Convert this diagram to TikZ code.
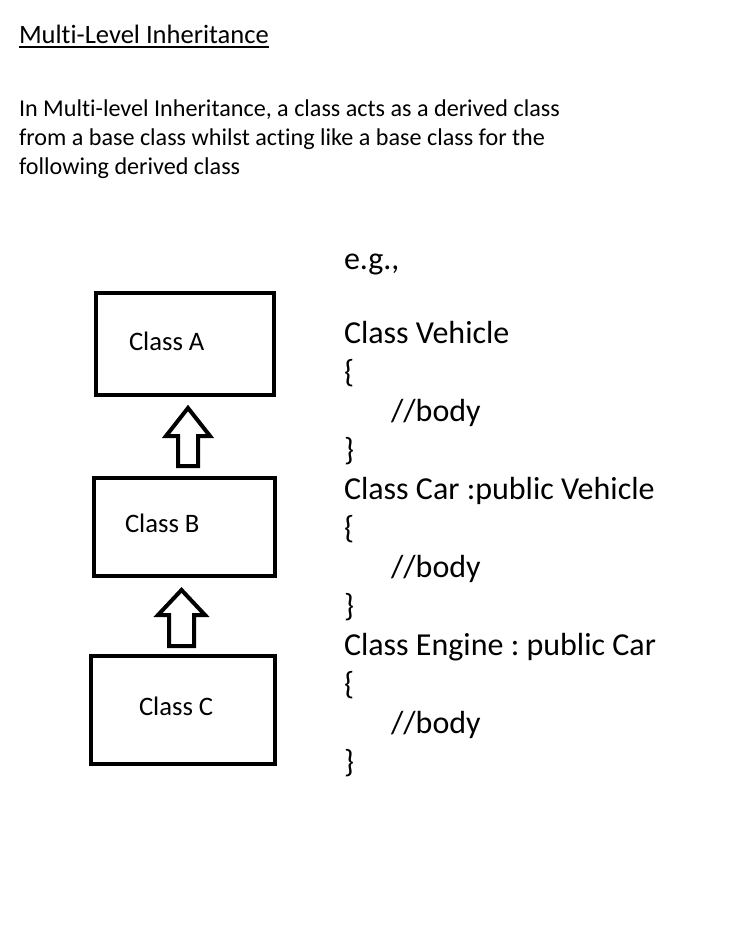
\documentclass[tikz,border=0pt]{standalone}
\usepackage{fontspec}
\setmainfont{Carlito}[Ligatures={NoCommon}]
\usetikzlibrary{calc}
\frenchspacing
\begin{document}
\frenchspacing
\begin{tikzpicture}[x=0.75pt,y=-0.75pt,
  txt/.style={anchor=base west,inner sep=0pt,outer sep=0pt},
  titlefont/.style={font=\fontsize{19.9}{24}\selectfont},
  bodyfont/.style={font=\fontsize{18.1}{22}\selectfont},
  codefont/.style={font=\fontsize{24}{28}\selectfont},
  labelfont/.style={font=\fontsize{20}{24}\selectfont},
  classbox/.style={draw,line width=3.4pt,rectangle,inner sep=0pt},
  blockarrow/.style={draw,line width=3pt,line join=miter,fill=white}]
\useasboundingbox (0,0) rectangle (744,926);
% title
\node[txt,titlefont] (title) at (19,43) {Multi-Level Inheritance};
\draw[line width=1.5pt] ($(title.base west)+(0,4)$) -- ($(title.base east)+(0,4)$);
% description
\node[txt,bodyfont] (d1) at (19,116) {In Multi-level Inheritance, a class acts as a derived class};
\node[txt,bodyfont] (d2) at (19,145) {from a base class whilst acting like a base class for the};
\node[txt,bodyfont] (d3) at (19,174) {following derived class};
% boxes
\node[classbox,minimum width={178*0.75pt},minimum height={102*0.75pt}] (A) at (185,344) {};
\node[classbox,minimum width={181*0.75pt},minimum height={98*0.75pt}] (B) at (184.5,527) {};
\node[classbox,minimum width={184*0.75pt},minimum height={108*0.75pt}] (C) at (183,710) {};
\node[txt,labelfont] (la) at (129,350) {Class A};
\node[txt,labelfont] (lb) at (125,532) {Class B};
\node[txt,labelfont] (lc) at (139,715) {Class C};
% block arrows
\draw[blockarrow] (178,466) -- (198,466) -- (198,436) -- (210,436) -- (188,408) -- (166,436) -- (178,436) -- cycle;
\draw[blockarrow] (169,646) -- (194,646) -- (194,615) -- (205,615) -- (181.5,590) -- (158,615) -- (169,615) -- cycle;
% code
\node[txt,codefont] (c0) at (344,269) {e.g.,};
\node[txt,codefont] (c1) at (344,343) {Class Vehicle};
\node[txt,codefont] (c2) at (344,382) {\{};
\node[txt,codefont] (c3) at (391,421) {//body};
\node[txt,codefont] (c4) at (344,460) {\}};
\node[txt,codefont] (c5) at (344,499) {Class Car :public Vehicle};
\node[txt,codefont] (c6) at (344,538) {\{};
\node[txt,codefont] (c7) at (391,577) {//body};
\node[txt,codefont] (c8) at (344,616) {\}};
\node[txt,codefont] (c9) at (344,655) {Class Engine : public Car};
\node[txt,codefont] (c10) at (344,694) {\{};
\node[txt,codefont] (c11) at (391,733) {//body};
\node[txt,codefont] (c12) at (344,772) {\}};
\end{tikzpicture}
\end{document}
